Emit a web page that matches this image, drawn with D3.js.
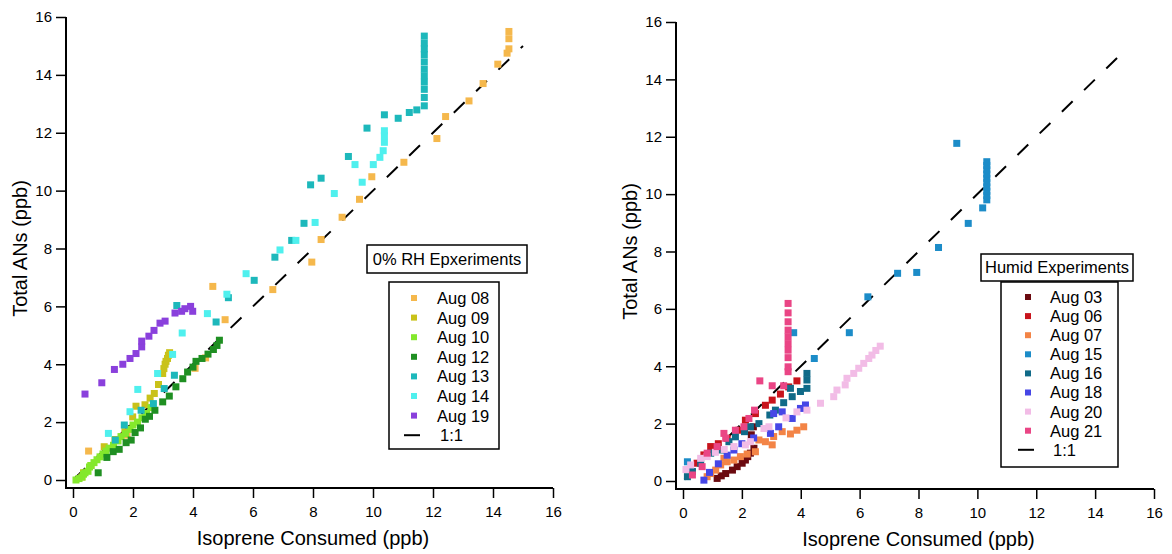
<!DOCTYPE html>
<html>
<head>
<meta charset="utf-8">
<script src="https://cdn.jsdelivr.net/npm/d3@7"></script>
<style>
  body { margin: 0; background: #fff; }
  svg { font-family: "Liberation Sans", Arial, sans-serif; }
  .axis text { font-size: 15px; fill: #000; }
  .axis line { stroke: #000; stroke-width: 1.5px; }
  .frame { stroke: #000; stroke-width: 2px; }
  .axis-title { font-size: 20px; fill: #000; }
  .legend text { font-size: 16.5px; fill: #000; }
  .legend rect.box { fill: #fff; stroke: #000; stroke-width: 1.5px; }
  .one-to-one { stroke: #000; stroke-width: 2px; stroke-dasharray: 15, 16; fill: none; }
</style>
</head>
<body>
<svg id="chart" width="1172" height="554"></svg>
<script>
const ticks = [0, 2, 4, 6, 8, 10, 12, 14, 16];
const oneToOne = [[0.05, 0.05], [15, 15]];

// 0% RH experiments
const dryNames = ['Aug 08', 'Aug 09', 'Aug 10', 'Aug 12', 'Aug 13', 'Aug 14', 'Aug 19'];
const aug08 = [[0.3, 0.1], [0.52, 1.0], [1.8, 1.55], [4.07, 3.86], [4.42, 4.22], [4.66, 6.69],
  [5.07, 5.54], [6.66, 6.58], [7.96, 7.53], [8.27, 8.31], [8.97, 9.08], [9.55, 9.7], [9.96, 10.48],
  [11.03, 10.98], [12.13, 11.8], [12.42, 12.56], [13.2, 13.1], [13.67, 13.7], [14.16, 14.37],
  [14.47, 14.75], [14.53, 14.9], [14.53, 15.25], [14.53, 15.5]];
const aug09 = [[0.35, 0.25], [0.6, 0.5], [1.04, 1.15], [1.4, 1.4], [1.73, 1.67], [1.99, 2.18],
  [2.1, 2.55], [2.4, 2.6], [2.57, 2.83], [2.71, 2.99], [2.85, 3.3], [2.99, 3.68], [3.03, 3.85],
  [3.07, 4.0], [3.1, 4.1], [3.15, 4.2], [3.18, 4.31], [3.22, 4.4]];
const aug10 = [[0.1, 0.0], [0.2, 0.05], [0.3, 0.1], [0.35, 0.2], [0.4, 0.25], [0.5, 0.3], [0.55, 0.45],
  [0.6, 0.5], [0.7, 0.6], [0.8, 0.7], [0.9, 0.8], [1.0, 0.9], [1.1, 1.0], [1.2, 1.1], [1.35, 1.2],
  [1.5, 1.35], [1.6, 1.5], [1.75, 1.6], [1.9, 1.75], [2.0, 1.9], [2.15, 2.0], [2.3, 2.15],
  [2.45, 2.3], [2.6, 2.5]];
const aug12 = [[0.84, 0.25], [1.13, 0.78], [1.34, 0.98], [1.54, 1.06], [1.77, 1.29], [1.94, 1.38],
  [2.07, 1.64], [2.25, 1.8], [2.41, 2.1], [2.55, 2.2], [2.73, 2.41], [2.99, 2.7], [3.21, 2.9],
  [3.43, 3.22], [3.66, 3.5], [3.82, 3.73], [4.0, 3.9], [4.1, 4.1], [4.3, 4.2], [4.5, 4.35],
  [4.68, 4.51], [4.8, 4.65], [4.88, 4.83]];
const aug13 = [[1.41, 1.38], [1.71, 1.9], [2.27, 2.41], [2.68, 2.64], [3.04, 3.16], [3.38, 3.62],
  [3.46, 6.03], [4.77, 5.46], [5.18, 6.3], [6.04, 6.9], [6.73, 7.7], [7.29, 8.28], [7.7, 8.87],
  [7.92, 10.2], [8.27, 10.43], [9.18, 11.18], [9.8, 12.16], [10.38, 12.62], [10.84, 12.5],
  [11.21, 12.7], [11.46, 12.79], [11.71, 12.93], [11.71, 13.22], [11.71, 13.5], [11.71, 13.75],
  [11.71, 13.97], [11.71, 14.2], [11.71, 14.45], [11.71, 14.7], [11.71, 14.9], [11.71, 15.1],
  [11.71, 15.34]];
const aug14 = [[1.18, 1.61], [1.9, 2.36], [2.16, 3.13], [2.82, 3.68], [3.32, 4.34], [3.64, 5.08],
  [4.48, 5.75], [5.13, 6.42], [5.77, 7.13], [6.9, 7.95], [7.43, 8.28], [8.07, 8.9], [8.71, 9.9],
  [9.4, 10.9], [9.64, 10.29], [10.01, 10.9], [10.23, 11.15], [10.34, 11.38], [10.38, 11.67],
  [10.38, 11.9], [10.38, 12.07]];
const aug19 = [[0.4, 2.97], [0.96, 3.36], [1.38, 3.82], [1.66, 4.0], [1.9, 4.2], [2.1, 4.37],
  [2.29, 4.6], [2.29, 4.8], [2.53, 4.97], [2.7, 5.17], [2.9, 5.42], [3.07, 5.49], [3.4, 5.77],
  [3.62, 5.83], [3.73, 5.92], [3.92, 6.0], [3.99, 5.83]];
const dryValues = [aug08, aug09, aug10, aug12, aug13, aug14, aug19];

// humid experiments
const humidNames = ['Aug 03', 'Aug 06', 'Aug 07', 'Aug 15', 'Aug 16', 'Aug 18', 'Aug 20', 'Aug 21'];
const aug03 = [[1.16, 0.09], [1.3, 0.18], [1.45, 0.26], [1.68, 0.38], [1.84, 0.5], [2.01, 0.62],
  [2.12, 0.73], [2.2, 0.85], [2.29, 0.97], [2.41, 1.14], [2.32, 1.61], [2.39, 1.89]];
const aug06 = [[0.48, 0.62], [0.71, 0.91], [0.94, 1.2], [1.2, 1.3], [1.5, 1.49], [1.9, 1.77],
  [2.12, 2.12], [2.46, 2.35], [2.8, 2.64], [3.03, 2.82], [3.31, 3.03], [3.59, 3.28], [3.87, 3.49]];
const aug07 = [[0.82, 0.15], [0.94, 0.26], [1.11, 0.38], [1.28, 0.56], [1.39, 0.79], [1.5, 0.67],
  [1.73, 0.73], [1.95, 0.85], [2.18, 0.94], [2.46, 1.02], [2.58, 1.43], [2.8, 1.37], [3.03, 1.26],
  [3.08, 1.55], [3.37, 1.72], [3.65, 1.64], [3.87, 1.77], [4.1, 1.89]];
const aug15 = [[0.15, 0.67], [3.76, 5.17], [4.46, 4.27], [5.65, 5.17], [6.28, 6.42], [7.29, 7.24],
  [7.94, 7.27], [8.68, 8.14], [9.3, 11.77], [9.69, 8.98], [10.18, 9.52], [10.32, 9.8],
  [10.32, 9.95], [10.32, 10.1], [10.32, 10.25], [10.32, 10.4], [10.32, 10.55], [10.32, 10.7],
  [10.32, 10.85], [10.32, 11.0], [10.32, 11.13]];
const aug16 = [[0.15, 0.15], [0.32, 0.33], [0.6, 0.62], [0.94, 0.97], [1.28, 1.08], [1.56, 1.37],
  [1.78, 1.54], [2.09, 1.72], [2.29, 1.89], [2.58, 2.0], [2.95, 2.3], [3.14, 2.47], [3.42, 2.73],
  [3.65, 3.23], [3.71, 2.94], [3.99, 3.12], [4.21, 3.23], [4.21, 3.52], [4.21, 3.75]];
const aug18 = [[0.71, 0.03], [0.9, 0.3], [1.2, 0.6], [1.5, 0.9], [1.73, 1.08], [2.0, 1.3], [2.4, 1.5],
  [2.97, 1.66], [3.25, 1.89], [3.08, 2.35], [3.37, 2.41], [3.71, 2.18], [3.99, 2.53], [4.16, 2.65]];
const aug20 = [[0.1, 0.4], [0.26, 0.56], [0.6, 0.79], [0.82, 0.85], [1.1, 1.0], [1.4, 1.1],
  [1.73, 1.2], [2.12, 1.26], [2.29, 1.37], [2.75, 1.83], [2.92, 1.89], [3.5, 2.2], [3.87, 2.41],
  [4.21, 2.47], [4.67, 2.71], [5.12, 2.94], [5.23, 3.17], [5.51, 3.35], [5.57, 3.58], [5.8, 3.75],
  [5.97, 3.93], [6.14, 4.1], [6.31, 4.27], [6.42, 4.39], [6.55, 4.55], [6.7, 4.7]];
const aug21 = [[0.32, 0.21], [0.65, 0.5], [0.82, 0.97], [1.16, 1.2], [1.39, 1.66], [1.45, 1.49],
  [1.78, 1.77], [2.07, 1.89], [2.24, 2.18], [2.43, 2.47], [2.61, 3.49], [3.03, 3.32], [3.42, 3.32],
  [3.57, 3.81], [3.57, 3.98], [3.57, 4.3], [3.57, 4.56], [3.57, 4.79], [3.57, 5.03], [3.57, 5.26],
  [3.57, 5.55], [3.57, 5.86], [3.57, 6.19]];
const humidValues = [aug03, aug06, aug07, aug15, aug16, aug18, aug20, aug21];

const dryColors = ['#f5b84c', '#c9c21a', '#84e82c', '#1f8f22', '#1db8bb', '#4ff0ee', '#8a40dc'];
const humidColors = ['#6b0a10', '#c8141c', '#f38446', '#1c8cc8', '#106a88', '#4646e6', '#f2bce6', '#ea4585'];

const MARKER = 7;
const LEGEND_MARKER = 6;

const svg = d3.select('#chart');

function drawPanel(p) {
  const x = d3.scaleLinear().domain([0, 16]).range([p.left, p.right]);
  const y = d3.scaleLinear().domain([0, 16]).range([p.bottom, p.top]);
  const g = svg.append('g');

  // Igor-style offset axes
  const xAxis = g.append('g')
    .attr('class', 'axis')
    .attr('transform', `translate(0,${p.axisY})`)
    .call(d3.axisBottom(x).tickValues(ticks).tickSize(10).tickPadding(8).tickSizeOuter(0));
  const yAxis = g.append('g')
    .attr('class', 'axis')
    .attr('transform', `translate(${p.axisX},0)`)
    .call(d3.axisLeft(y).tickValues(ticks).tickSize(10).tickPadding(4).tickSizeOuter(0));
  xAxis.select('.domain').remove();
  yAxis.select('.domain').remove();
  g.append('path')
    .attr('class', 'frame')
    .attr('fill', 'none')
    .attr('d', `M${p.axisX},${y(16)}V${p.axisY}H${x(16)}`);

  g.append('text')
    .attr('class', 'axis-title')
    .attr('text-anchor', 'middle')
    .attr('x', x(8))
    .attr('y', p.axisY + 57)
    .text('Isoprene Consumed (ppb)');
  g.append('text')
    .attr('class', 'axis-title')
    .attr('text-anchor', 'middle')
    .attr('transform', `translate(${p.yTitleX},${y(8)}) rotate(-90)`)
    .text('Total ANs (ppb)');

  // 1:1 line
  g.append('path')
    .attr('class', 'one-to-one')
    .attr('d', d3.line().x((d) => x(d[0])).y((d) => y(d[1]))(oneToOne));

  p.values.forEach((series, i) => {
    g.append('g')
      .selectAll('rect')
      .data(series)
      .enter()
        .append('rect')
        .attr('x', (d) => x(d[0]) - MARKER / 2)
        .attr('y', (d) => y(d[1]) - MARKER / 2)
        .attr('width', MARKER)
        .attr('height', MARKER)
        .attr('fill', p.colors[i]);
  });

  // legend
  const lg = g.append('g').attr('class', 'legend');
  const t = p.titleBox;
  lg.append('rect').attr('class', 'box')
    .attr('x', t.x).attr('y', t.y).attr('width', t.w).attr('height', t.h);
  lg.append('text')
    .attr('x', t.x + t.w / 2)
    .attr('y', t.y + t.h / 2)
    .attr('dy', '0.36em')
    .attr('text-anchor', 'middle')
    .text(p.legendTitle);

  const b = p.legendBox;
  lg.append('rect').attr('class', 'box')
    .attr('x', b.x).attr('y', b.y).attr('width', b.w).attr('height', b.h);
  const rows = p.names.concat(['1:1']);
  rows.forEach((name, i) => {
    const ry = b.firstRow + i * b.step;
    if (i < p.names.length) {
      lg.append('rect')
        .attr('x', b.markerX - LEGEND_MARKER / 2)
        .attr('y', ry - LEGEND_MARKER / 2)
        .attr('width', LEGEND_MARKER)
        .attr('height', LEGEND_MARKER)
        .attr('fill', p.colors[i]);
      lg.append('text').attr('x', b.textX).attr('y', ry).attr('dy', '0.36em').text(name);
    } else {
      lg.append('line')
        .attr('x1', b.markerX - 10).attr('x2', b.markerX + 6)
        .attr('y1', ry).attr('y2', ry)
        .attr('stroke', '#000').attr('stroke-width', 2);
      lg.append('text').attr('x', b.textX + 3).attr('y', ry).attr('dy', '0.36em').text(name);
    }
  });
}

drawPanel({
  left: 73, right: 553, bottom: 480, top: 17,
  axisX: 66, axisY: 488, yTitleX: 27,
  names: dryNames, values: dryValues, colors: dryColors,
  legendTitle: '0% RH Epxeriments',
  titleBox: { x: 367, y: 245, w: 160, h: 28 },
  legendBox: { x: 389, y: 282, w: 110, h: 167, firstRow: 298, step: 19.6, markerX: 414, textX: 437 }
});

drawPanel({
  left: 683, right: 1154, bottom: 481, top: 22,
  axisX: 676, axisY: 489, yTitleX: 637,
  names: humidNames, values: humidValues, colors: humidColors,
  legendTitle: 'Humid Experiments',
  titleBox: { x: 981, y: 254, w: 152, h: 27 },
  legendBox: { x: 1001, y: 282, w: 117, h: 185, firstRow: 297, step: 19.1, markerX: 1028, textX: 1050 }
});
</script>
</body>
</html>
